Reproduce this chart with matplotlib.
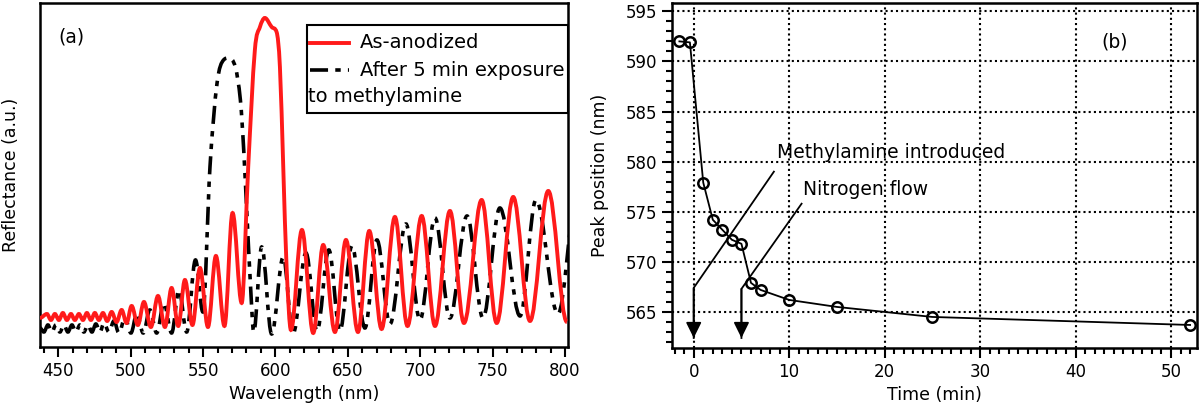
import matplotlib
matplotlib.use("Agg")
import matplotlib.pyplot as plt
from matplotlib.path import Path
from matplotlib.patches import PathPatch, Rectangle
from matplotlib.lines import Line2D

# panel (a): points on the reflectance fringes (nm, a.u.)
red_nm = [437.4, 442.2, 445.0, 447.7, 450.5, 453.2, 456.0, 458.8, 461.5, 464.3,
          467.1, 469.8, 472.6, 475.3, 478.1, 480.9, 483.8, 486.9, 490.3, 493.8,
          497.2, 500.7, 505.0, 509.2, 514.0, 518.9, 523.7, 528.3, 532.9, 537.5,
          542.7, 547.9, 553.4, 558.9, 564.8, 570.4, 576.7, 581.2, 585.8, 589.3,
          592.7, 597.4, 600.8, 603.1, 605.4, 607.7, 610.7, 618.3, 626.1, 633.0,
          641.1, 648.7, 657.0, 664.8, 673.3, 682.5, 691.2, 701.0, 710.2, 720.5,
          730.2, 742.4, 752.8, 764.2, 775.8, 788.4, 801.3]
red_r = [29, 33, 27, 33, 27, 34, 27, 33, 27, 33,
         27, 34, 27, 34, 27, 34, 26, 35, 25, 37,
         24, 41, 22, 45, 20, 51, 20, 59, 21, 67,
         22, 79, 20, 91, 21, 134, 44, 180, 297, 320,
         329, 320, 315, 280, 180, 80, 17, 117, 14, 102,
         15, 107, 15, 116, 18, 130, 21, 131, 21, 136,
         24, 147, 24, 150, 26, 156, 25]

black_nm = [437.4, 440.1, 442.9, 445.6, 448.4, 451.2, 453.9, 456.7, 459.5, 462.2,
            465.0, 467.7, 470.5, 473.3, 476.0, 478.8, 481.6, 485.0, 488.5, 491.9,
            496.1, 500.2, 504.3, 508.7, 513.3, 518.0, 523.0, 528.3, 533.4, 538.7,
            544.8, 549.9, 554.8, 559.7, 564.2, 567.7, 572.3, 575.8, 578.1, 580.4,
            582.7, 585.0, 590.5, 597.4, 605.4, 612.1, 621.1, 628.7, 636.9, 644.5,
            652.8, 661.8, 670.1, 679.1, 690.1, 699.8, 710.2, 720.5, 732.3, 743.3,
            755.0, 768.9, 779.9, 795.1, 807.5]
black_r = [19, 15, 22, 15, 22, 15, 22, 15, 22, 15,
           22, 15, 22, 15, 23, 15, 24, 15, 26, 14,
           29, 14, 33, 14, 37, 14, 44, 14, 57, 15,
           87, 35, 180, 264, 287, 289, 280, 247, 197, 130,
           64, 15, 100, 13, 90, 13, 94, 16, 97, 16,
           101, 19, 107, 23, 123, 27, 129, 29, 131, 29,
           139, 31, 147, 33, 142]

# panel (b): peak position vs time
time_min = [-1.5, -0.4, 1, 2, 3, 4, 5, 6, 7, 10, 15, 25, 52]
peak_nm = [592.0, 591.9, 577.9, 574.2, 573.2, 572.2, 571.8, 567.9, 567.2, 566.2, 565.5, 564.5, 563.7]

# annotation leader lines (time, nm)
methyl_t = [8.4, 0.0, 0.0]
methyl_y = [579.0, 567.4, 562.4]
nitro_t = [11.3, 5.0, 5.0]
nitro_y = [575.8, 567.3, 562.4]

BLACK_DASH = (0, (5, 2, 1.5, 2, 1.5, 2))


def fringe_path(x, y):
    # smooth bezier through the read points; flat tangent at peaks/troughs
    n = len(x)
    m = []
    for i in range(n):
        if i == 0 or i == n - 1 or (y[i] - y[i - 1]) * (y[i + 1] - y[i]) <= 0:
            m.append(0.0)
        else:
            s0 = (y[i] - y[i - 1]) / (x[i] - x[i - 1])
            s1 = (y[i + 1] - y[i]) / (x[i + 1] - x[i])
            s = (y[i + 1] - y[i - 1]) / (x[i + 1] - x[i - 1])
            lim = 3 * min(abs(s0), abs(s1))
            m.append(max(-lim, min(lim, s)))
    verts = [(x[0], y[0])]
    codes = [Path.MOVETO]
    for i in range(n - 1):
        dx = x[i + 1] - x[i]
        k = 0.36 if (m[i] == 0 and m[i + 1] == 0) else 1 / 3
        h = k * dx
        verts += [(x[i] + h, y[i] + h * m[i]), (x[i + 1] - h, y[i + 1] - h * m[i + 1]),
                  (x[i + 1], y[i + 1])]
        codes += [Path.CURVE4] * 3
    return Path(verts, codes)


plt.rcParams['font.family'] = ['DejaVu Sans']
plt.rcParams['font.size'] = 12

fig = plt.figure(figsize=(12, 4.12), dpi=100)
ax1 = fig.add_axes([0.0333, 0.1578, 0.44, 0.835])
ax2 = fig.add_axes([0.5598, 0.1553, 0.4375, 0.8367])

# ---- panel (a)
ax1.add_patch(PathPatch(fringe_path(black_nm, black_r), facecolor='none', edgecolor='black',
                        lw=2.6, linestyle=BLACK_DASH, transform=ax1.transData, zorder=2))
ax1.add_patch(PathPatch(fringe_path(red_nm, red_r), facecolor='none', edgecolor='#ff1a1a',
                        lw=2.8, transform=ax1.transData, zorder=3))
ax1.set_xlim(437.4, 802)
ax1.set_ylim(0, 344)
ax1.set_yticks([])
ax1.set_xticks(range(450, 801, 50))
ax1.set_xticks(range(440, 801, 10), minor=True)
ax1.tick_params(axis='x', which='major', direction='out', length=7, width=1.5, labelsize=12)
ax1.tick_params(axis='x', which='minor', direction='out', length=4.5, width=1.5)
for s in ax1.spines.values():
    s.set_linewidth(1.8)
ax1.set_xlabel('Wavelength (nm)', fontsize=12.5)
ax1.set_ylabel('Reflectance (a.u.)', fontsize=12.5)
ax1.yaxis.set_label_coords(-0.038, 0.5)
ax1.text(0.034, 0.90, '(a)', transform=ax1.transAxes, fontsize=13.5, va='center')

# legend drawn by hand (Igor-style wrapped label)
ax1.add_patch(Rectangle((0.505, 0.68), 0.495, 0.256, transform=ax1.transAxes,
                        facecolor='white', edgecolor='black', lw=1.5, zorder=5))
ax1.add_line(Line2D([0.512, 0.585], [0.885, 0.885], transform=ax1.transAxes,
                    color='#ff1a1a', lw=2.8, zorder=6))
ax1.add_line(Line2D([0.512, 0.585], [0.805, 0.805], transform=ax1.transAxes,
                    color='black', lw=2.6, linestyle=BLACK_DASH, zorder=6))
ax1.text(0.606, 0.885, 'As-anodized', transform=ax1.transAxes, va='center', fontsize=14, zorder=7)
ax1.text(0.606, 0.805, 'After 5 min exposure', transform=ax1.transAxes, va='center', fontsize=14, zorder=7)
ax1.text(0.508, 0.728, 'to methylamine', transform=ax1.transAxes, va='center', fontsize=14, zorder=7)

# ---- panel (b)
ax2.plot(time_min, peak_nm, color='black', lw=1.3, marker='o', ms=7.5,
         mfc='none', mec='black', mew=1.8, zorder=4)
ax2.plot(methyl_t, methyl_y, color='black', lw=1.3, zorder=4)
ax2.plot(nitro_t, nitro_y, color='black', lw=1.3, zorder=4)
for t, y in ((methyl_t, methyl_y), (nitro_t, nitro_y)):
    ax2.annotate('', xy=(t[2], y[2]), xytext=(t[1], y[1]),
                 arrowprops=dict(arrowstyle='-|>,head_length=0.95,head_width=0.47',
                                 mutation_scale=10, color='black', lw=1.3,
                                 shrinkA=0, shrinkB=0), zorder=4)
ax2.text(8.7, 580.9, 'Methylamine introduced', fontsize=13.5, va='center')
ax2.text(11.5, 577.2, 'Nitrogen flow', fontsize=13.5, va='center')
ax2.text(0.844, 0.889, '(b)', transform=ax2.transAxes, fontsize=13.5, ha='center', va='center')

ax2.set_xlim(-2.3, 52.7)
ax2.set_ylim(561.4, 595.8)
ax2.set_xticks(range(0, 51, 10))
ax2.set_xticks(range(-2, 53, 1), minor=True)
ax2.set_yticks(range(565, 596, 5))
ax2.set_yticks(range(562, 596, 1), minor=True)
ax2.tick_params(which='major', direction='out', length=7, width=1.5, labelsize=12)
ax2.tick_params(which='minor', direction='out', length=4, width=1.5)
ax2.grid(True, which='major', color='black', linestyle=(0, (1, 1.5)), linewidth=1.5)
for s in ax2.spines.values():
    s.set_linewidth(1.8)
ax2.set_xlabel('Time (min)', fontsize=12.5)
ax2.set_ylabel('Peak position (nm)', fontsize=12.5)
ax2.yaxis.set_label_coords(-0.119, 0.5)

fig.savefig('out.png', dpi=100)
